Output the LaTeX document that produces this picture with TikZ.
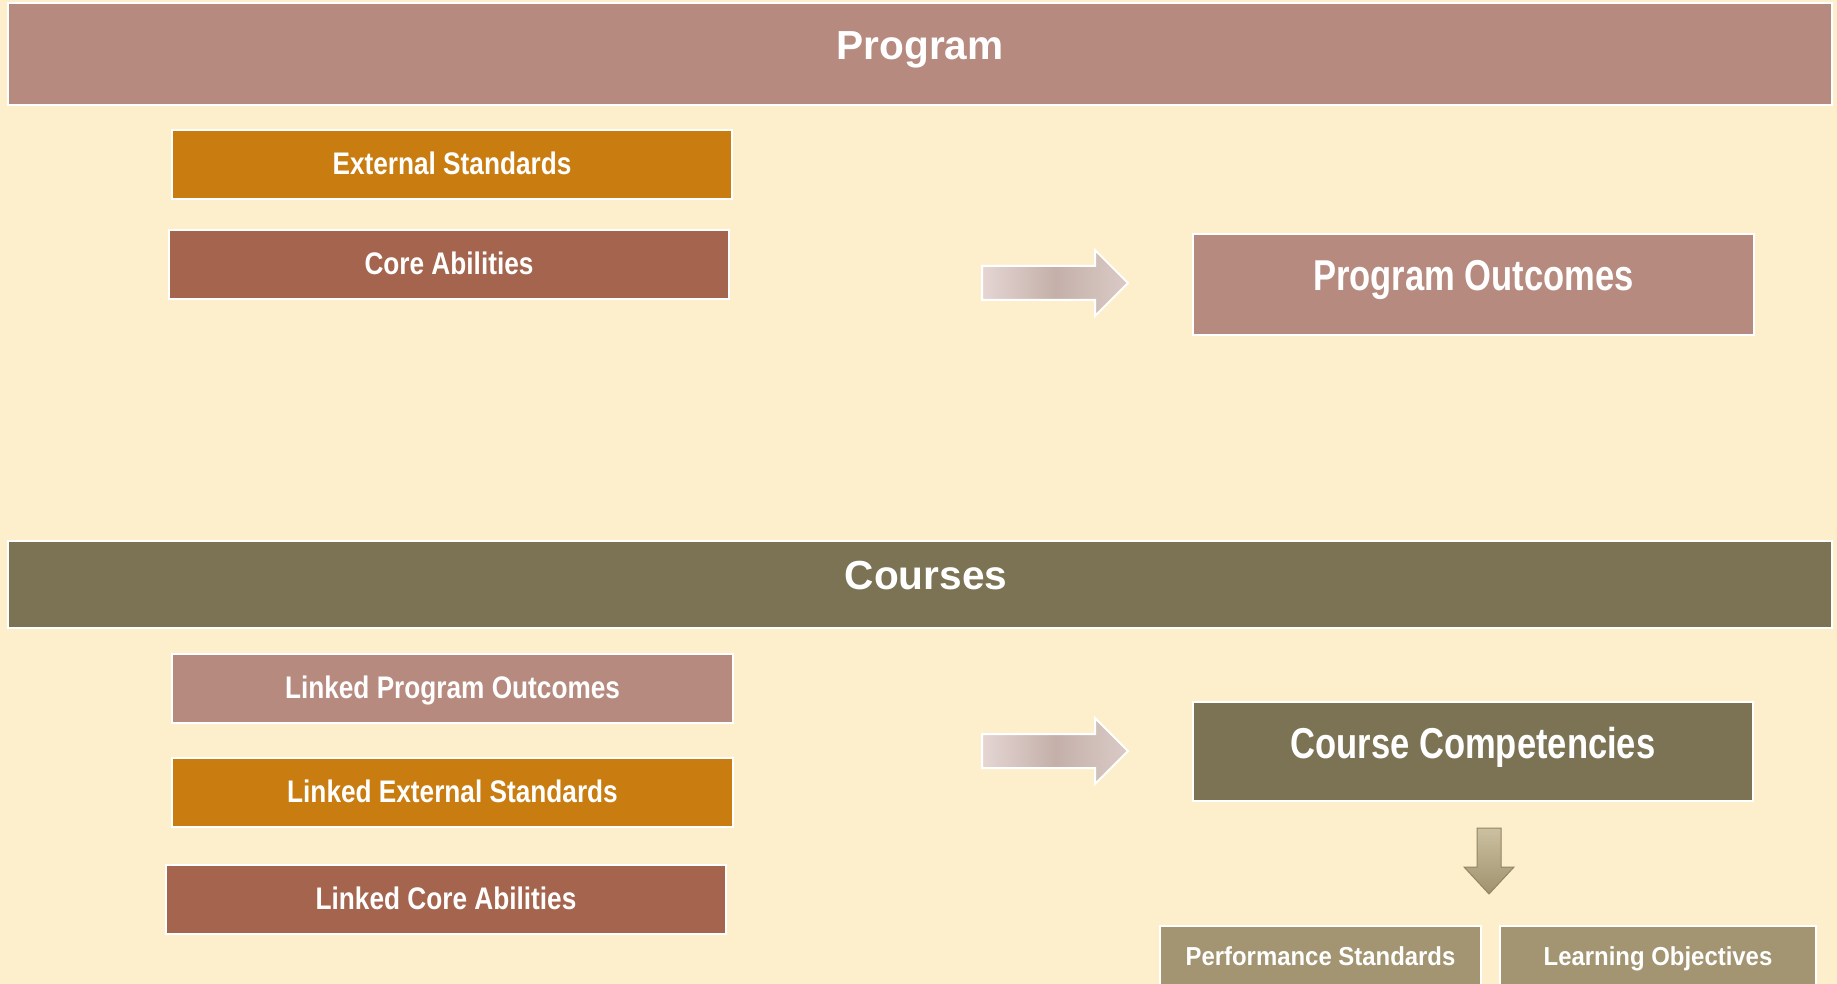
\documentclass[tikz,border=0pt]{standalone}
\usepackage{fontspec}
\setmainfont{Liberation Sans}
\newfontfamily\narrowfont[FakeStretch=0.84]{Liberation Sans}
\newfontfamily\bignarrowfont[FakeStretch=0.80]{Liberation Sans}
\newfontfamily\midnarrowfont[FakeStretch=0.92]{Liberation Sans}
\definecolor{bg}{RGB}{253,239,203}
\definecolor{rose}{RGB}{182,138,126}
\definecolor{ochre}{RGB}{201,124,15}
\definecolor{rust}{RGB}{164,100,77}
\definecolor{olive}{RGB}{123,115,84}
\definecolor{khaki}{RGB}{163,149,114}
\definecolor{arrL}{RGB}{229,214,212}
\definecolor{arrM}{RGB}{196,176,169}
\definecolor{arrR}{RGB}{218,202,198}
\definecolor{darrT}{RGB}{203,192,160}
\definecolor{darrB}{RGB}{160,146,110}
\tikzset{
  box/.style={draw=white, line width=0.8pt, rectangle, inner sep=0pt, text=white,
    text height=9.6pt, text depth=0pt,
    font=\narrowfont\bfseries\fontsize{15.6}{18}\selectfont},
  bigtext/.style={text=white, inner sep=0pt, text height=15.5pt, text depth=0pt,
    font=\bignarrowfont\bfseries\fontsize{21.6}{25}\selectfont},
  smalltext/.style={text=white, inner sep=0pt, text height=9.3pt, text depth=0pt,
    font=\midnarrowfont\bfseries\fontsize{13}{16}\selectfont},
  banner/.style={draw=white, line width=1pt, rectangle, inner sep=0pt,
    minimum width=912pt},
  bannertext/.style={text=white, inner sep=0pt, text height=14.5pt, text depth=0pt,
    font=\bfseries\fontsize{20.3}{24}\selectfont},
  blockarrow/.style={draw=white, line width=1pt, line join=miter,
    left color=arrL, right color=arrR, middle color=arrM},
  downarrow/.style={draw=khaki!90!black, line width=0.5pt,
    top color=darrT, bottom color=darrB}
}
\begin{document}
\begin{tikzpicture}[x=0.5pt,y=-0.5pt]
\fill[bg] (0,0) rectangle (1837,984);
\useasboundingbox (0,0) rectangle (1837,984);

% Program banner
\node[banner, fill=rose, minimum height=51pt,
  label={[bannertext, yshift=4.4pt]center:Program}] (prog) at (920,54) {};

% Left boxes top
\node[box, fill=ochre, minimum width=280pt, minimum height=34.5pt] (ext) at (452,164.5) {External Standards};
\node[box, fill=rust, minimum width=280pt, minimum height=34.5pt] (core) at (449,264.5) {Core Abilities};

% Program outcomes
\node[box, fill=rose, minimum width=280.5pt, minimum height=50.5pt,
  label={[bigtext, yshift=4.5pt]center:Program Outcomes}] (po) at (1473.5,284.5) {};

% Arrow 1
\draw[blockarrow] (982,266) -- (1095,266) -- (1095,250) -- (1128,283) -- (1095,316) -- (1095,300) -- (982,300) -- cycle;

% Courses banner
\node[banner, fill=olive, minimum height=43.5pt,
  label={[bannertext, yshift=4.6pt, xshift=3pt]center:Courses}] (courses) at (920,584.5) {};

% Left boxes bottom
\node[box, fill=rose, minimum width=280.5pt, minimum height=34.5pt] (lpo) at (452.5,688.5) {Linked Program Outcomes};
\node[box, fill=ochre, minimum width=280.5pt, minimum height=34.5pt] (les) at (452.5,792.5) {Linked External Standards};
\node[box, fill=rust, minimum width=280pt, minimum height=34.5pt] (lca) at (446,899.5) {Linked Core Abilities};

% Arrow 2
\draw[blockarrow] (982,734) -- (1095,734) -- (1095,718) -- (1128,751) -- (1095,784) -- (1095,768) -- (982,768) -- cycle;

% Course competencies
\node[box, fill=olive, minimum width=280pt, minimum height=49.5pt,
  label={[bigtext, yshift=4.5pt]center:Course Competencies}] (cc) at (1473,751.5) {};

% Down arrow
\draw[downarrow] (1477,828) -- (1501,828) -- (1501,867) -- (1514,867) -- (1489,894) -- (1464,867) -- (1477,867) -- cycle;

% Bottom boxes
\node[box, fill=khaki, minimum width=160.5pt, minimum height=37pt,
  label={[smalltext, yshift=3.5pt]center:Performance Standards}] (perf) at (1320.5,963) {};
\node[box, fill=khaki, minimum width=158pt, minimum height=37pt,
  label={[smalltext, yshift=3.5pt]center:Learning Objectives}] (lobj) at (1658,963) {};
\end{tikzpicture}
\end{document}
